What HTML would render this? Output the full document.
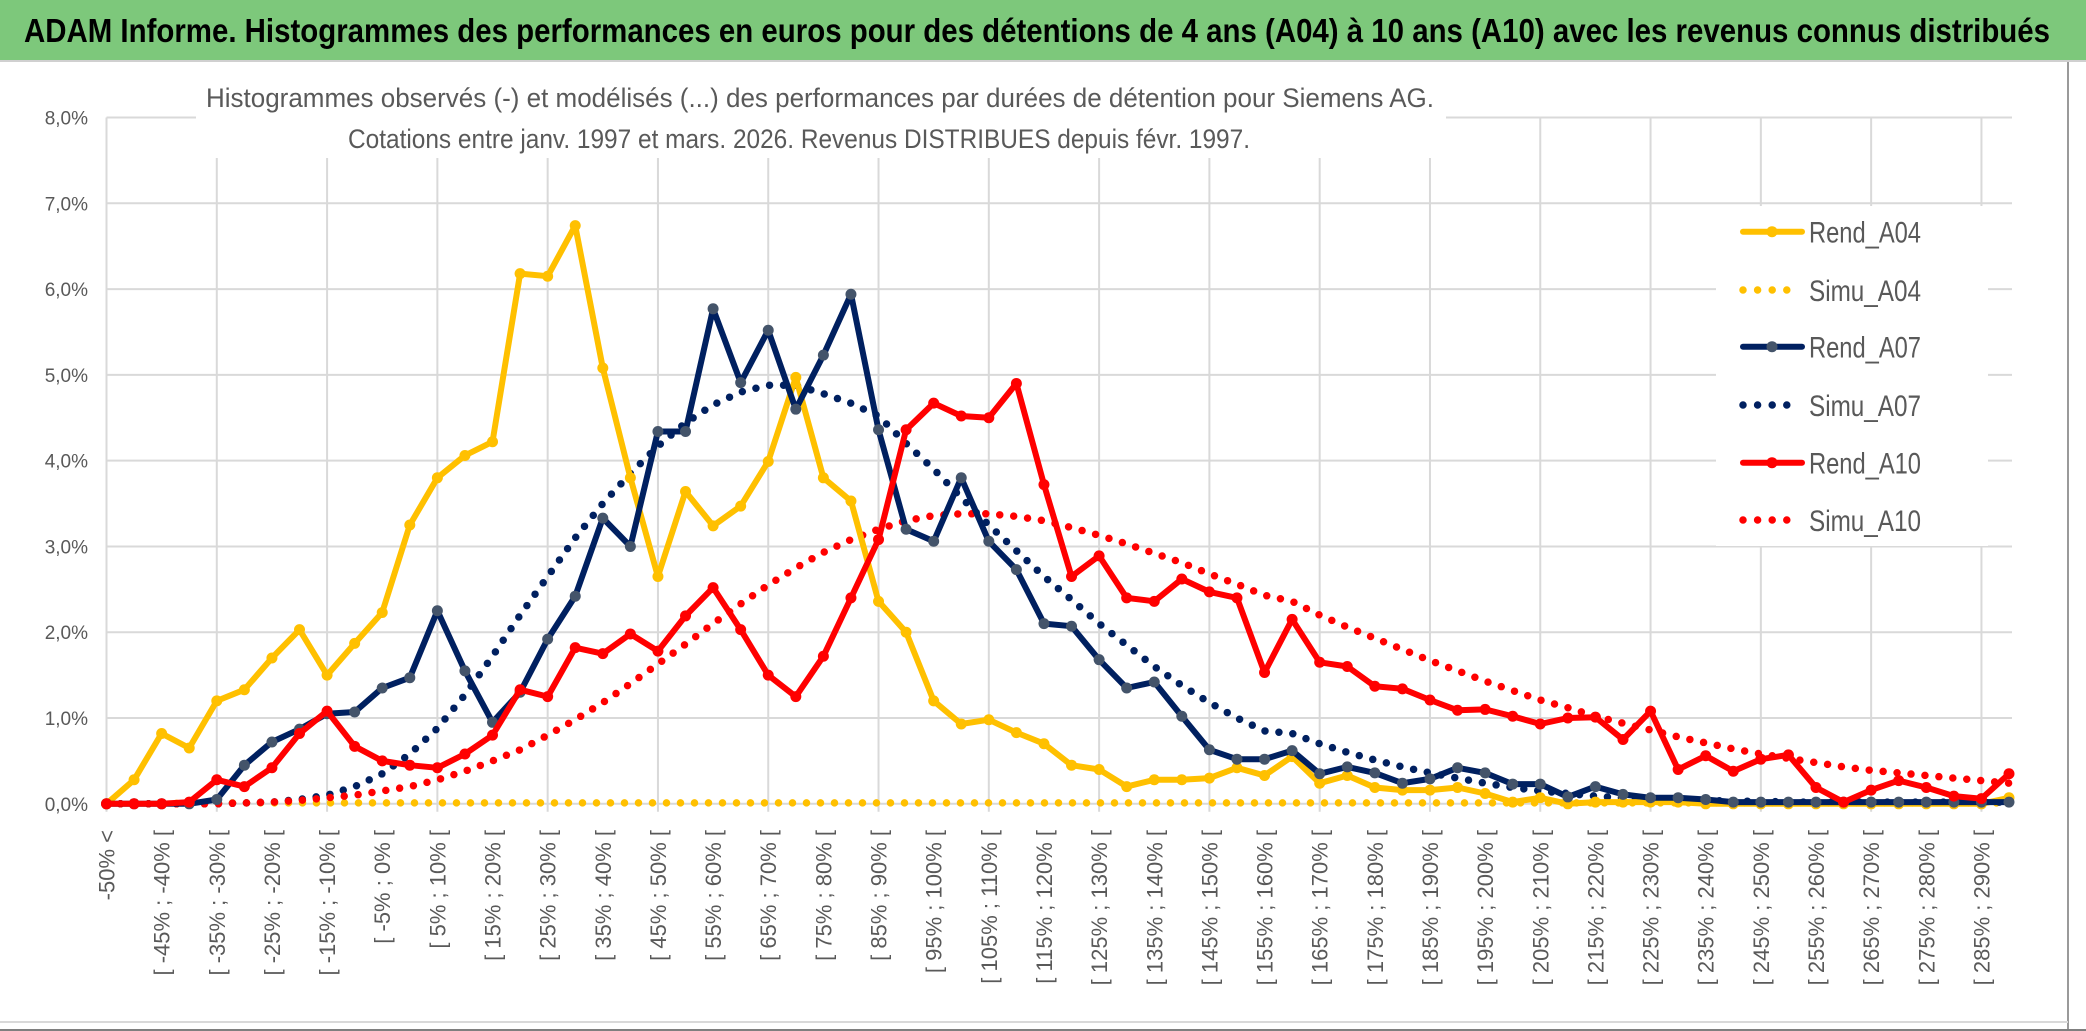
<!DOCTYPE html>
<html><head><meta charset="utf-8"><style>
html,body{margin:0;padding:0;background:#fff;}
svg{display:block;font-family:"Liberation Sans",sans-serif;}
</style></head><body>
<svg id="chart" width="2086" height="1031" viewBox="0 0 2086 1031" xmlns="http://www.w3.org/2000/svg">
<rect x="0" y="0" width="2086" height="1031" fill="#fff"/>
<rect x="0" y="0" width="2086" height="60" fill="#7dc87b"/>
<line x1="0" y1="61" x2="2086" y2="61" stroke="#d0d0d0" stroke-width="2"/>
<text x="24" y="42" font-size="33" font-weight="bold" fill="#000" textLength="2026" lengthAdjust="spacingAndGlyphs">ADAM Informe. Histogrammes des performances en euros pour des détentions de 4 ans (A04) à 10 ans (A10) avec les revenus connus distribués</text>
<line x1="2068" y1="62" x2="2068" y2="1029" stroke="#9a9a9a" stroke-width="2"/>
<line x1="0" y1="1022" x2="2068" y2="1022" stroke="#d9d9d9" stroke-width="2"/>
<line x1="0" y1="1030" x2="2086" y2="1030" stroke="#7f7f7f" stroke-width="2"/>
<g id="grid"></g>
<rect x="196" y="78" width="1250" height="80" fill="#fff"/>
<text x="206" y="107" font-size="27" fill="#595959" textLength="1228" lengthAdjust="spacingAndGlyphs">Histogrammes observés (-) et modélisés (...) des performances par durées de détention pour Siemens AG.</text>
<text x="348" y="148" font-size="27" fill="#595959" textLength="902" lengthAdjust="spacingAndGlyphs">Cotations entre janv. 1997 et mars. 2026. Revenus DISTRIBUES depuis févr. 1997.</text>
<g id="ylabels"></g>
<g id="xlabels"></g>
<g id="series"></g>
<rect x="1716" y="206" width="272" height="340" fill="#fff"/>
<g id="legend"></g>
</svg>
<script>
const yTicks = [0,1,2,3,4,5,6,7,8];
const yTickLabels = ["0,0%","1,0%","2,0%","3,0%","4,0%","5,0%","6,0%","7,0%","8,0%"];
const categories = ["-50% <"];
for (let k = 1; k < 70; k++) categories.push("[ " + (-55+5*k) + "% ; " + (-50+5*k) + "% [");
const rendA04 = [0,0.28,0.82,0.65,1.2,1.33,1.7,2.03,1.5,1.87,2.23,3.25,3.8,4.06,4.22,6.18,6.15,6.74,5.08,3.8,2.65,3.64,3.24,3.47,3.99,4.97,3.8,3.53,2.36,2.0,1.2,0.93,0.98,0.83,0.7,0.45,0.4,0.2,0.28,0.28,0.3,0.42,0.33,0.55,0.24,0.33,0.19,0.16,0.16,0.19,0.12,0.02,0.07,0.0,0.02,0.02,0.02,0.02,0.0,0.0,0.0,0.0,0.0,0.0,0.0,0.0,0.0,0.0,0.0,0.07];
const simuA04 = [0,0,0,0.01,0.01,0.01,0.01,0.01,0.01,0.01,0.01,0.01,0.01,0.01,0.01,0.01,0.01,0.01,0.01,0.01,0.01,0.01,0.01,0.01,0.01,0.01,0.01,0.01,0.01,0.01,0.01,0.01,0.01,0.01,0.01,0.01,0.01,0.01,0.01,0.01,0.01,0.01,0.01,0.01,0.01,0.01,0.01,0.01,0.01,0.01,0.01,0.01,0.01,0.01,0.01,0.01,0.01,0.01,0.01,0.01,0.01,0.01,0.01,0.01,0.01,0.01,0.01,0.01,0.01,0.01];
const rendA07 = [0,0,0,0,0.05,0.45,0.72,0.87,1.05,1.07,1.35,1.47,2.25,1.55,0.95,1.3,1.92,2.42,3.33,3.0,4.34,4.34,5.77,4.91,5.52,4.6,5.23,5.94,4.36,3.2,3.06,3.8,3.06,2.73,2.1,2.07,1.68,1.35,1.42,1.02,0.63,0.52,0.52,0.62,0.35,0.43,0.36,0.24,0.29,0.42,0.36,0.23,0.23,0.08,0.2,0.11,0.07,0.07,0.05,0.02,0.02,0.02,0.02,0.02,0.02,0.02,0.02,0.02,0.02,0.02];
const simuA07 = [0,0,0,0,0,0.01,0.02,0.05,0.1,0.2,0.35,0.58,0.88,1.27,1.72,2.2,2.65,3.1,3.5,3.85,4.17,4.44,4.65,4.8,4.88,4.88,4.78,4.67,4.52,4.2,3.9,3.57,3.25,2.95,2.65,2.38,2.1,1.85,1.6,1.38,1.18,1.0,0.85,0.82,0.7,0.6,0.51,0.43,0.36,0.3,0.24,0.19,0.15,0.12,0.09,0.07,0.06,0.05,0.04,0.03,0.03,0.02,0.02,0.02,0.02,0.02,0.02,0.02,0.02,0.02];
const rendA10 = [0,0,0,0.02,0.28,0.2,0.42,0.82,1.08,0.67,0.5,0.45,0.42,0.58,0.8,1.33,1.25,1.82,1.75,1.98,1.78,2.19,2.52,2.03,1.5,1.25,1.72,2.4,3.08,4.36,4.67,4.52,4.5,4.9,3.72,2.65,2.89,2.4,2.36,2.62,2.47,2.4,1.53,2.15,1.65,1.6,1.37,1.34,1.21,1.09,1.1,1.02,0.93,1.0,1.01,0.75,1.08,0.4,0.56,0.38,0.52,0.57,0.19,0.02,0.16,0.27,0.19,0.09,0.06,0.35];
const simuA10 = [0,0,0,0,0,0.01,0.02,0.04,0.07,0.1,0.15,0.2,0.28,0.38,0.5,0.63,0.8,0.98,1.18,1.4,1.63,1.86,2.1,2.33,2.55,2.75,2.93,3.08,3.2,3.3,3.36,3.38,3.38,3.35,3.3,3.22,3.13,3.03,2.92,2.81,2.68,2.56,2.43,2.36,2.2,2.06,1.93,1.8,1.67,1.55,1.43,1.32,1.21,1.12,1.02,0.94,0.86,0.78,0.71,0.64,0.58,0.53,0.48,0.43,0.39,0.36,0.33,0.3,0.27,0.24];
const seriesNames = ["Rend_A04","Simu_A04","Rend_A07","Simu_A07","Rend_A10","Simu_A10"];

const NS = "http://www.w3.org/2000/svg";
const X0 = 106.5, X1 = 2009, Y0 = 803.8, Y8 = 117.5;
const xPos = i => X0 + (X1 - X0) * i / (categories.length - 1);
const yPos = v => Y0 - (Y0 - Y8) * v / 8;
function mk(tag, attrs, parent){ const e=document.createElementNS(NS,tag); for(const k in attrs) e.setAttribute(k,attrs[k]); parent.appendChild(e); return e; }

const grid = document.getElementById('grid');
yTicks.forEach((t) => {
  const l = mk('line',{x1:X0,x2:2012,y1:yPos(t),y2:yPos(t),stroke:'#d9d9d9','stroke-width':2},grid);
  
  
});
for (let i = 0; i < categories.length; i += 4) {
  const l = mk('line',{x1:xPos(i),x2:xPos(i),y1:Y8,y2:Y0+8,stroke:'#d9d9d9','stroke-width':2},grid);
  
  
}
const yl = document.getElementById('ylabels');
yTicks.forEach((t,i) => {
  const tx = mk('text',{x:88,y:yPos(t)+7,'font-size':19,fill:'#595959','text-anchor':'end'},yl);
  tx.textContent = yTickLabels[i];
  
  
});
const xl = document.getElementById('xlabels');
for (let i = 0; i < categories.length; i += 2) {
  if (i === 0 || i % 2 === 0) {
    const x = xPos(i) + 8, y = 830;
    const tx = mk('text',{x:x,y:y,'font-size':22,fill:'#595959','text-anchor':'end',transform:`rotate(-90 ${x} ${y})`},xl);
    tx.textContent = categories[i];
    
    
  }
}
const sg = document.getElementById('series');
function drawDotted(vals,color,name){
  const d = vals.map((v,i)=>(i?'L':'M')+xPos(i).toFixed(1)+' '+yPos(v).toFixed(1)).join(' ');
  const p = mk('path',{d:d,fill:'none',stroke:color,'stroke-width':7.5,'stroke-linecap':'round','stroke-dasharray':'0 14'},sg);
  
  
}
function drawSolid(vals,color,marker,name){
  const d = vals.map((v,i)=>(i?'L':'M')+xPos(i).toFixed(1)+' '+yPos(v).toFixed(1)).join(' ');
  const p = mk('path',{d:d,fill:'none',stroke:color,'stroke-width':6,'stroke-linejoin':'round'},sg);
  
  
  vals.forEach((v,i)=>{
    const c = mk('circle',{cx:xPos(i),cy:yPos(v),r:5.5,fill:marker},sg);
    
    
  });
}
drawDotted(simuA04,'#ffc000','simu-a04-line');
drawDotted(simuA07,'#002060','simu-a07-line');
drawDotted(simuA10,'#ff0000','simu-a10-line');
drawSolid(rendA04,'#ffc000','#ffc000','rend-a04-line');
drawSolid(rendA07,'#002060','#44546a','rend-a07-line');
drawSolid(rendA10,'#ff0000','#ff0000','rend-a10-line');

const lg = document.getElementById('legend');
const lcolors = ['#ffc000','#ffc000','#002060','#002060','#ff0000','#ff0000'];
const lmarkers = ['#ffc000',null,'#44546a',null,'#ff0000',null];
const lys = [231.7,290,346.7,405,462.7,520];
seriesNames.forEach((n,i)=>{
  const y = lys[i];
  if (lmarkers[i]) {
    const l = mk('line',{x1:1743,x2:1802,y1:y,y2:y,stroke:lcolors[i],'stroke-width':6,'stroke-linecap':'round'},lg);
    
    
    const c = mk('circle',{cx:1772,cy:y,r:5.5,fill:lmarkers[i]},lg);
    
    
  } else {
    const l = mk('line',{x1:1743,x2:(i===5?1800:1790),y1:y,y2:y,stroke:lcolors[i],'stroke-width':7.5,'stroke-linecap':'round','stroke-dasharray':'0 14.6'},lg);
    
    
  }
  const t = mk('text',{x:1809,y:y+11,'font-size':30,fill:'#595959',textLength:112,lengthAdjust:'spacingAndGlyphs'},lg);
  t.textContent = n;
  
  
});
</script>
</body></html>
